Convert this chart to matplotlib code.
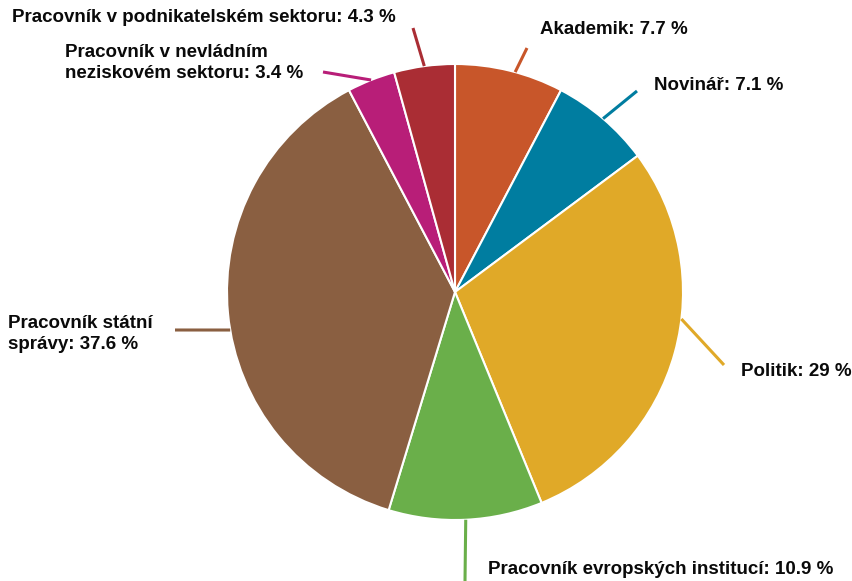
import numpy as np
import matplotlib
matplotlib.use("Agg")
import matplotlib.pyplot as plt

labels = ["Akademik", "Novinář", "Politik", "Pracovník evropských institucí",
          "Pracovník státní\nsprávy", "Pracovník v nevládním\nneziskovém sektoru",
          "Pracovník v podnikatelském sektoru"]
values = [7.7, 7.1, 29, 10.9, 37.6, 3.4, 4.3]
value_text = ["7.7", "7.1", "29", "10.9", "37.6", "3.4", "4.3"]
colors = ["#C8562A", "#007DA0", "#E0A928", "#6AAF4A", "#8A5F41", "#B81E78", "#AA2D34"]

W, H = 853, 581
cx, cy, R = 455, 292, 228

# leader line end (pixel coords, y from top) and label anchor
line_end = [(527, 48), (637, 91), (724, 365), (465, 581), (175, 330), (323, 72), (413, 28)]
text_pos = [(540, 30), (654, 86), (741, 371), (488, 570), (8, 334), (65, 63), (12, 18)]
start_ang = [15.3, None, 96.8, None, 260.4, None, None]

plt.rcParams['font.family'] = ['Liberation Sans', 'DejaVu Sans']
fig = plt.figure(figsize=(W / 100, H / 100), dpi=100)
ax = fig.add_axes([0, 0, 1, 1])

ax.pie(values, colors=colors, startangle=90, counterclock=False,
       center=(cx, H - cy), radius=R,
       wedgeprops=dict(edgecolor='white', linewidth=1.5))
ax.set_xlim(0, W)
ax.set_ylim(0, H)
ax.set_aspect('equal')
ax.axis('off')

total = sum(values)
cum = np.cumsum([0] + values)
for i, lab in enumerate(labels):
    mid = (cum[i] + values[i] / 2) / total * 360
    a = start_ang[i] if start_ang[i] is not None else mid
    a = np.radians(a)
    sx = cx + R * np.sin(a)
    sy = cy - R * np.cos(a)
    ex, ey = line_end[i]
    ax.plot([sx, ex], [H - sy, H - ey], color=colors[i], lw=2.2, solid_capstyle='butt')
    tx, ty = text_pos[i]
    ax.text(tx, H - ty, f"{lab}: {value_text[i]} %", ha='left', va='center',
            fontsize=13.5, fontweight='bold', color='#0a0a0a', linespacing=1.38)

fig.savefig("out.png", dpi=100)
